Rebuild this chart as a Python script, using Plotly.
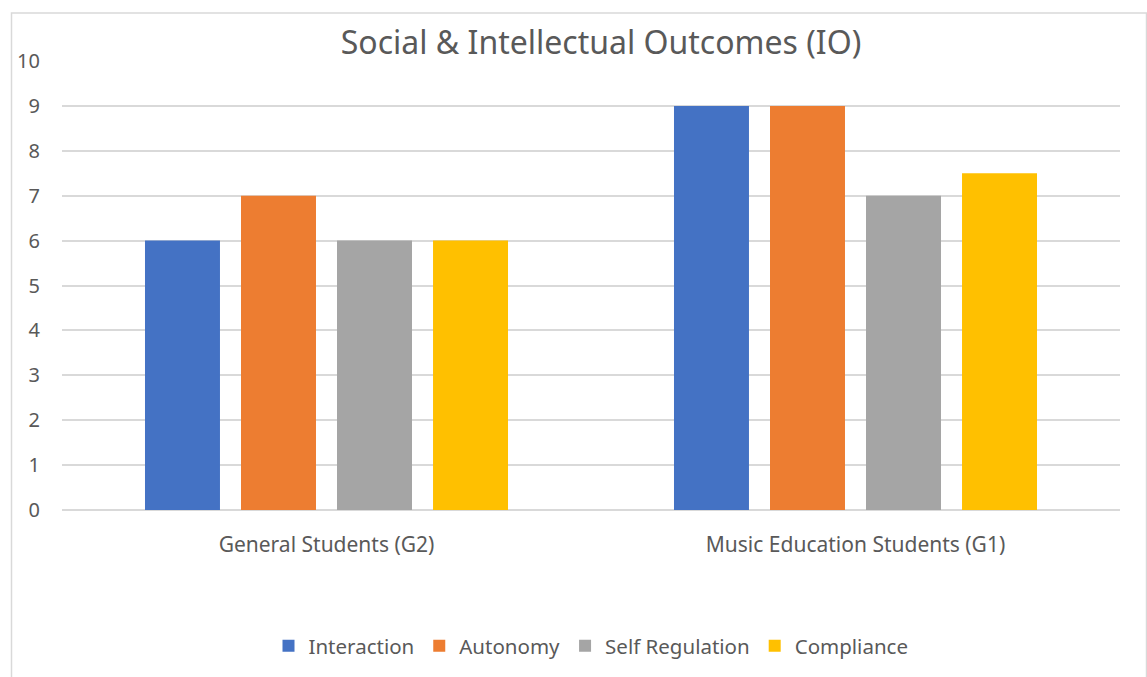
import plotly.graph_objects as go

categories = ["General Students (G2)", "Music Education Students (G1)"]
series_names = ["Interaction", "Autonomy", "Self Regulation", "Compliance"]
interaction = [6, 9]
autonomy = [7, 9]
self_regulation = [6, 7]
compliance = [6, 7.5]
colors = ["#4472C4", "#ED7D31", "#A5A5A5", "#FFC000"]
y_ticks = list(range(0, 11))

values = [interaction, autonomy, self_regulation, compliance]

FONT = "Noto Sans, Open Sans, sans-serif"
TXT = "#595959"

fig = go.Figure()
for name, vals, col in zip(series_names, values, colors):
    fig.add_trace(go.Bar(x=categories, y=vals, name=name, marker=dict(color=col, line=dict(width=0))))

W, H = 1147, 677
L, R, T, B = 62, 27, 61, 166
pw, ph = W - L - R, H - T - B

def px_x(p):
    return (p - L) / pw

def px_y(p):
    return (H - B - p) / ph

fig.update_layout(
    width=W, height=H,
    margin=dict(l=L, r=R, t=T, b=B, pad=0),
    paper_bgcolor="white", plot_bgcolor="white",
    barmode="group", bargap=0.274, bargroupgap=0.219,
    font=dict(family=FONT, color=TXT, size=20),
    title=dict(text="Social & Intellectual Outcomes (IO)", x=px_x(601), xanchor="center",
               xref="paper", y=1 - 43 / H, yanchor="middle",
               font=dict(size=32, color=TXT, family=FONT)),
    xaxis=dict(type="category", range=[-0.5, 1.5], showgrid=False, showline=False,
               zeroline=False, ticks="", tickfont=dict(size=21, color=TXT),
               ticklabelstandoff=20),
    yaxis=dict(range=[0, 10], tickvals=y_ticks, showgrid=True, gridcolor="#D9D9D9",
               gridwidth=1.5, zeroline=True, zerolinecolor="#D9D9D9", zerolinewidth=1.5,
               showline=False, ticks="", tickfont=dict(size=20, color=TXT),
               ticklabelstandoff=21),
    legend=dict(orientation="h", x=0.5, xanchor="center", y=px_y(646), yanchor="middle",
                font=dict(size=20.5, color=TXT), itemwidth=30, traceorder="normal"),
    showlegend=True,
)

fig.add_shape(type="rect", xref="paper", yref="paper",
              x0=px_x(11.5), x1=px_x(1146.5), y0=px_y(690), y1=px_y(13),
              line=dict(color="#D9D9D9", width=1.5), fillcolor="rgba(0,0,0,0)", layer="below")

fig.write_html("out.html")
